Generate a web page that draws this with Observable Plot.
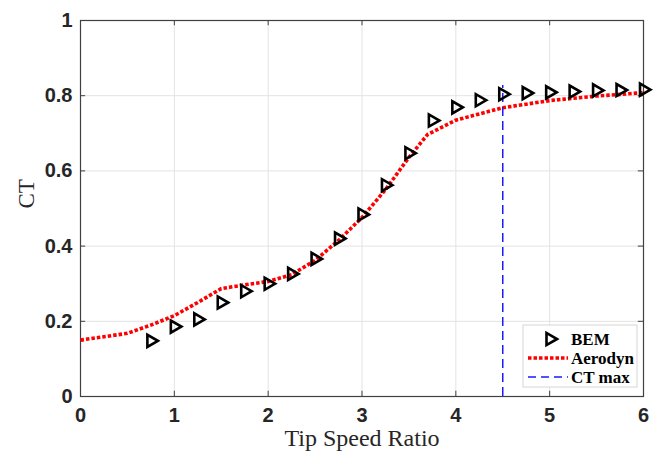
<!DOCTYPE html>
<html>
<head>
<meta charset="utf-8">
<script src="https://cdn.jsdelivr.net/npm/d3@7"></script>
<script src="https://cdn.jsdelivr.net/npm/@observablehq/plot@0.6"></script>
<style>
  html, body { margin: 0; padding: 0; background: #fff; }
  #chart { position: relative; width: 657px; height: 452px; overflow: hidden; }
</style>
</head>
<body>
<div id="chart"></div>
<script>
// ---- data ----
const bemTSR = [0.75, 1, 1.25, 1.5, 1.75, 2, 2.25, 2.5, 2.75, 3, 3.25, 3.5, 3.75, 4, 4.25, 4.5, 4.75, 5, 5.25, 5.5, 5.75, 6];
const bemCT  = [0.148, 0.186, 0.205, 0.25, 0.28, 0.30, 0.326, 0.366, 0.42, 0.484, 0.562, 0.647, 0.734, 0.769, 0.788, 0.804, 0.807, 0.809, 0.811, 0.814, 0.815, 0.816];
const aeroTSR = [0, 0.5, 0.75, 1, 1.25, 1.5, 1.75, 2, 2.25, 2.5, 2.75, 3, 3.25, 3.5, 3.7, 4, 4.5, 5, 5.5, 6];
const aeroCT  = [0.15, 0.168, 0.19, 0.215, 0.25, 0.287, 0.297, 0.306, 0.324, 0.362, 0.415, 0.476, 0.55, 0.636, 0.697, 0.735, 0.768, 0.787, 0.799, 0.808];
const ctMaxTSR = [4.5];
const ctMaxTop = [0.827];
const xTicks = [0, 1, 2, 3, 4, 5, 6];
const yTicks = [0, 0.2, 0.4, 0.6, 0.8, 1];
const seriesNames = ["BEM", "Aerodyn", "CT max"];
const xLabel = "Tip Speed Ratio";
const yLabel = "CT";

const bem = bemTSR.map((x, i) => ({x, y: bemCT[i]}));
const aero = aeroTSR.map((x, i) => ({x, y: aeroCT[i]}));
const ctmax = ctMaxTSR.map((x, i) => ({x, y1: 0, y2: ctMaxTop[i]}));

const axisColor = "#404040";
const tickFont = {fontFamily: "'Liberation Sans', Arial, sans-serif", fontSize: 20, fontWeight: "bold", fill: "#262626"};
const serif = "'Liberation Serif', 'Times New Roman', serif";

const plot = Plot.plot({
  width: 657,
  height: 452,
  marginLeft: 80,
  marginRight: 14,
  marginTop: 20,
  marginBottom: 56,
  style: {background: "#fff", overflow: "visible"},
  x: {domain: [0, 6]},
  y: {domain: [0, 1]},
  marks: [
    Plot.gridX(xTicks, {stroke: "#e3e3e3", strokeOpacity: 1, strokeWidth: 1}),
    Plot.gridY(yTicks, {stroke: "#e3e3e3", strokeOpacity: 1, strokeWidth: 1}),
    Plot.frame({stroke: axisColor, strokeWidth: 1.2}),
    // inward ticks
    Plot.ruleX(xTicks, {y1: 0, y2: 0.014, stroke: axisColor}),
    Plot.ruleX(xTicks, {y1: 1, y2: 0.986, stroke: axisColor}),
    Plot.ruleY(yTicks, {x1: 0, x2: 0.055, stroke: axisColor}),
    Plot.ruleY(yTicks, {x1: 6, x2: 5.945, stroke: axisColor}),
    Plot.axisX(xTicks, {tickSize: 0, tickPadding: 11, label: null, tickFormat: d => String(d), ...tickFont}),
    Plot.axisY(yTicks, {tickSize: 0, tickPadding: 8, label: null, tickFormat: d => String(d), ...tickFont}),
    Plot.text([xLabel], {frameAnchor: "bottom", dy: 42, lineAnchor: "middle", fontFamily: serif, fontSize: 24, fill: "#262626"}),
    Plot.text([yLabel], {frameAnchor: "left", dx: -54, rotate: -90, lineAnchor: "middle", fontFamily: serif, fontSize: 23, fill: "#262626"}),
    Plot.line(aero, {x: "x", y: "y", stroke: "#ff0000", strokeWidth: 3.6, strokeDasharray: "3.5 2", strokeLinecap: "butt", strokeLinejoin: "miter"}),
    Plot.ruleX(ctmax, {x: "x", y1: "y1", y2: "y2", stroke: "#1a1aff", strokeWidth: 1.5, strokeDasharray: "9 5"}),
    Plot.dot(bem, {x: "x", y: "y", symbol: "triangle", rotate: 90, r: 4.5, stroke: "#000", strokeWidth: 2.6, fill: "none"})
  ]
});

document.getElementById("chart").appendChild(plot);

// ---- legend (inside the axes, lower right) ----
const svg = d3.select(plot);
const lg = svg.append("g").attr("class", "legend").attr("text-anchor", "start");
const lx = 523, ly = 325, lw = 114, lh = 62;
lg.append("rect").attr("x", lx).attr("y", ly).attr("width", lw).attr("height", lh)
  .attr("fill", "#fff").attr("stroke", "#d6d6d6").attr("stroke-width", 1);
const rows = [ly + 14, ly + 33, ly + 52];
const sym = d3.symbol(d3.symbolTriangle, 4.5 * 4.5 * Math.PI);
lg.append("path").attr("d", sym()).attr("transform", `translate(550,${rows[0]}) rotate(90)`)
  .attr("fill", "none").attr("stroke", "#000").attr("stroke-width", 2.6);
lg.append("line").attr("x1", 528).attr("x2", 568).attr("y1", rows[1]).attr("y2", rows[1])
  .attr("stroke", "#ff0000").attr("stroke-width", 3.6).attr("stroke-dasharray", "3.5 2");
lg.append("line").attr("x1", 528).attr("x2", 568).attr("y1", rows[2]).attr("y2", rows[2])
  .attr("stroke", "#1a1aff").attr("stroke-width", 1.5).attr("stroke-dasharray", "8 5");
seriesNames.forEach((name, i) => {
  lg.append("text").attr("x", 571).attr("y", rows[i]).attr("dy", "0.35em")
    .attr("text-anchor", "start")
    .attr("font-family", serif).attr("font-weight", "bold").attr("font-size", 17)
    .attr("fill", "#000").text(name);
});
</script>
</body>
</html>
